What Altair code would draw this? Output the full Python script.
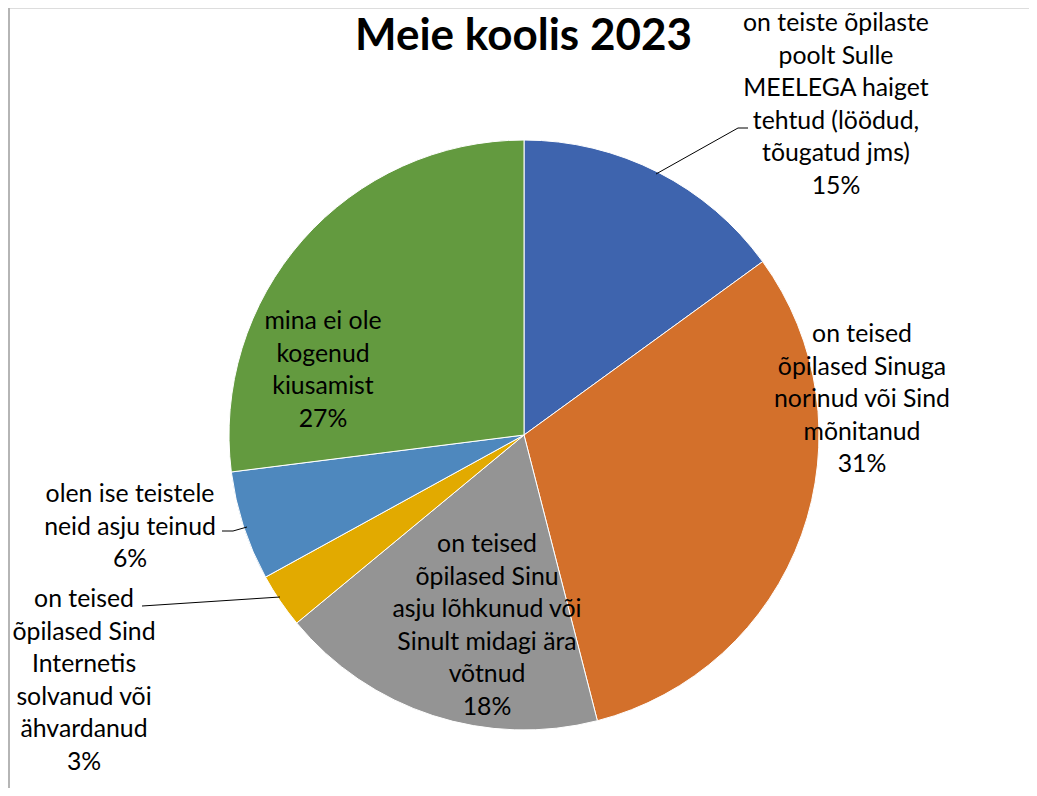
import altair as alt
import pandas as pd

# ---- data ----
categories = [
    "on teiste õpilaste\npoolt Sulle\nMEELEGA haiget\ntehtud (löödud,\ntõugatud jms)",
    "on teised\nõpilased Sinuga\nnorinud või Sind\nmõnitanud",
    "on teised\nõpilased Sinu\nasju lõhkunud või\nSinult midagi ära\nvõtnud",
    "on teised\nõpilased Sind\nInternetis\nsolvanud või\nähvardanud",
    "olen ise teistele\nneid asju teinud",
    "mina ei ole\nkogenud\nkiusamist",
]
values = [15, 31, 18, 3, 6, 27]
title_text = "Meie koolis 2023"

# ---- styling / layout (not data) ----
colors = ["#3E64AE", "#D3702B", "#949494", "#E2AA00", "#4E88BE", "#639A3F"]
label_x = [828, 854, 479, 76, 122, 315]
label_y = [16, 327, 537, 592, 487, 314]
W, H = 1021, 780
CX, CY, R = 516, 427, 295
FONT = "Lato"

df = pd.DataFrame({
    "cat": categories,
    "value": values,
    "order": list(range(len(values))),
    "label": [c + "\n" + str(v) + "%" for c, v in zip(categories, values)],
    "lx": label_x,
    "ly": label_y,
})

color_scale = alt.Scale(domain=categories, range=colors)

pie = alt.Chart(df).mark_arc(outerRadius=R, stroke="white", strokeWidth=1).encode(
    theta=alt.Theta("value:Q", stack=True),
    order=alt.Order("order:Q"),
    color=alt.Color("cat:N", scale=color_scale, legend=None, sort=categories),
    x=alt.value(CX),
    y=alt.value(CY),
)

labels = alt.Chart(df).mark_text(
    font=FONT, fontSize=24.8, lineBreak="\n", lineHeight=32.5,
    align="center", baseline="middle", color="#000000",
).encode(
    x=alt.X("lx:Q", scale=None),
    y=alt.Y("ly:Q", scale=None),
    text="label:N",
)

# leader lines (annotation geometry)
lead = pd.DataFrame({
    "g": [0, 0, 0, 1, 1, 1, 2, 2],
    "i": [0, 1, 2, 0, 1, 2, 0, 1],
    "x": [740, 730, 648, 214, 225, 239, 134, 272],
    "y": [120, 120, 166, 523, 523, 519, 598, 589],
})
leaders = alt.Chart(lead).mark_line(color="#000000", strokeWidth=1).encode(
    x=alt.X("x:Q", scale=None),
    y=alt.Y("y:Q", scale=None),
    detail="g:N",
    order="i:Q",
)

title = alt.Chart(pd.DataFrame({"t": [title_text]})).mark_text(
    font=FONT, fontSize=44, fontWeight="bold", align="center",
    baseline="alphabetic", color="#000000",
).encode(x=alt.value(515.5), y=alt.value(42), text="t:N")

border = alt.Chart(pd.DataFrame({"a": [0]})).mark_rule(
    color="#B5B5B5", strokeWidth=2
).encode(x=alt.value(1), y=alt.value(0), y2=alt.value(H))

chart = alt.layer(border, pie, leaders, labels, title).properties(
    width=W, height=H, autosize=alt.AutoSizeParams(type="none"), padding=0,
).configure_view(stroke=None).configure(background="white")

chart.save("out.html", embed_options={"renderer": "svg", "actions": False})
